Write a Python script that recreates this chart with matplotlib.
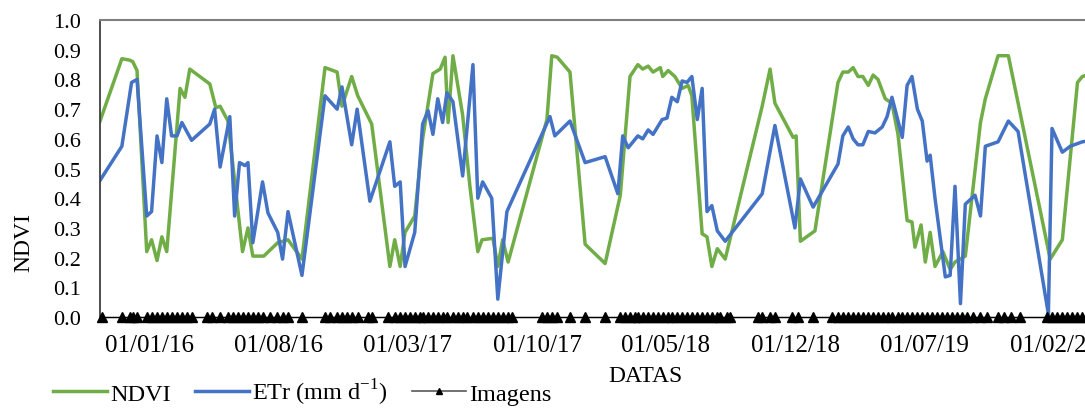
import matplotlib
matplotlib.use('Agg')
import matplotlib.pyplot as plt
import matplotlib.dates as mdates
import numpy as np
import pandas as pd

plt.rcParams['font.family'] = ['Liberation Serif', 'DejaVu Serif']
plt.rcParams['mathtext.fontset'] = 'custom'
plt.rcParams['mathtext.rm'] = 'Liberation Serif'

# dias contados a partir de 01/01/2016
ndvi_dias = [-82, -46, -33, -28, -21, -5, 3, 12, 20, 28, 50, 58, 66, 99, 109, 116, 129,
             153, 162, 170, 188, 211, 228, 251, 289, 309, 317, 333, 343, 366, 396, 404,
             413, 421, 437, 450, 467, 479, 487, 492, 500, 516, 528, 541, 548, 566, 574,
             582, 591, 655, 663, 672, 693, 718, 751, 776, 792, 805, 813, 822, 830, 842,
             846, 855, 866, 878, 888, 894, 911, 919, 927, 936, 949, 1010, 1023, 1031,
             1061, 1066, 1073, 1097, 1135, 1143, 1152, 1160, 1168, 1176, 1185, 1193,
             1201, 1213, 1224, 1234, 1249, 1257, 1262, 1272, 1279, 1287, 1295, 1308,
             1320, 1328, 1345, 1370, 1378, 1399, 1416, 1485, 1505, 1530, 1538, 1570]
ndvi = [0.66, 0.87, 0.865, 0.86, 0.83, 0.22, 0.26, 0.19, 0.27, 0.22, 0.77, 0.74, 0.835,
        0.785, 0.705, 0.71, 0.66, 0.22, 0.30, 0.205, 0.205, 0.25, 0.26, 0.195, 0.84,
        0.825, 0.71, 0.81, 0.745, 0.65, 0.17, 0.26, 0.17, 0.285, 0.34, 0.60, 0.82,
        0.835, 0.875, 0.655, 0.88, 0.68, 0.44, 0.22, 0.26, 0.265, 0.17, 0.26, 0.185,
        0.665, 0.88, 0.875, 0.825, 0.245, 0.18, 0.41, 0.81, 0.85, 0.835, 0.845, 0.825,
        0.84, 0.81, 0.83, 0.81, 0.77, 0.78, 0.745, 0.28, 0.27, 0.17, 0.23, 0.195, 0.71,
        0.835, 0.72, 0.605, 0.61, 0.255, 0.29, 0.79, 0.825, 0.825, 0.84, 0.81, 0.81,
        0.78, 0.815, 0.80, 0.735, 0.72, 0.615, 0.325, 0.32, 0.235, 0.31, 0.185, 0.285,
        0.17, 0.22, 0.16, 0.185, 0.205, 0.655, 0.735, 0.88, 0.88, 0.195, 0.26, 0.79,
        0.81, 0.83]

etr_dias = [-82, -46, -30, -21, -5, 3, 12, 20, 28, 36, 45, 53, 69, 99, 107, 116, 132,
            140, 148, 157, 162, 170, 186, 195, 211, 219, 228, 251, 289, 309, 317, 333,
            342, 363, 396, 404, 413, 421, 437, 450, 459, 467, 475, 483, 490, 500, 516,
            533, 541, 549, 564, 574, 589, 660, 668, 693, 718, 751, 772, 780, 789, 805,
            813, 822, 830, 845, 853, 861, 870, 878, 886, 894, 903, 911, 919, 927, 936,
            949, 1010, 1031, 1064, 1073, 1094, 1135, 1143, 1152, 1160, 1168, 1176, 1185,
            1196, 1208, 1216, 1224, 1241, 1249, 1257, 1266, 1274, 1282, 1287, 1295,
            1312, 1320, 1328, 1337, 1345, 1361, 1370, 1378, 1399, 1416, 1432, 1482,
            1488, 1505, 1518, 1538, 1570]
etr = [0.46, 0.575, 0.79, 0.80, 0.34, 0.355, 0.61, 0.52, 0.735, 0.61, 0.61, 0.655,
       0.595, 0.65, 0.70, 0.505, 0.675, 0.34, 0.52, 0.51, 0.52, 0.25, 0.455, 0.35,
       0.285, 0.195, 0.355, 0.14, 0.745, 0.70, 0.775, 0.58, 0.70, 0.39, 0.59, 0.44,
       0.455, 0.17, 0.285, 0.65, 0.695, 0.615, 0.735, 0.655, 0.755, 0.725, 0.475, 0.85,
       0.40, 0.455, 0.40, 0.06, 0.355, 0.675, 0.61, 0.66, 0.52, 0.54, 0.415, 0.61, 0.57,
       0.61, 0.60, 0.63, 0.615, 0.665, 0.67, 0.74, 0.725, 0.795, 0.79, 0.81, 0.665,
       0.77, 0.355, 0.375, 0.29, 0.255, 0.415, 0.645, 0.30, 0.465, 0.37, 0.515, 0.61,
       0.64, 0.60, 0.58, 0.58, 0.625, 0.62, 0.64, 0.675, 0.74, 0.605, 0.78, 0.81, 0.70,
       0.66, 0.525, 0.545, 0.40, 0.135, 0.14, 0.44, 0.045, 0.38, 0.41, 0.34, 0.575,
       0.59, 0.66, 0.625, 0.01, 0.635, 0.555, 0.575, 0.59, 0.60]

imagens_dias = [-79, -46, -33, -28, -21, -5, 3, 12, 20, 28, 36, 45, 53, 61, 69, 94, 102,
                116, 129, 137, 145, 153, 162, 170, 178, 186, 198, 210, 219, 228, 251, 289,
                297, 309, 317, 325, 333, 343, 360, 366, 393, 404, 413, 421, 429, 437, 445,
                450, 459, 467, 475, 483, 490, 500, 508, 516, 524, 533, 541, 549, 557, 566,
                574, 582, 591, 597, 647, 655, 663, 672, 693, 718, 751, 776, 784, 792, 800,
                805, 813, 822, 830, 838, 846, 855, 862, 870, 878, 886, 894, 903, 911, 919,
                927, 936, 940, 952, 957, 1003, 1010, 1023, 1031, 1059, 1069, 1094, 1125,
                1135, 1143, 1152, 1160, 1168, 1176, 1185, 1193, 1201, 1209, 1217, 1224,
                1234, 1241, 1249, 1257, 1266, 1274, 1282, 1290, 1298, 1307, 1315, 1323,
                1331, 1339, 1348, 1358, 1370, 1381, 1399, 1408, 1420, 1435, 1480, 1488,
                1496, 1505, 1513, 1521, 1530, 1538, 1546, 1554]

rotulos_x = ['2016-01-01', '2016-08-01', '2017-03-01', '2017-10-01',
             '2018-05-01', '2018-12-01', '2019-07-01', '2020-02-01']

base = pd.Timestamp('2016-01-01')
def to_dates(d):
    return base + pd.to_timedelta(np.array(d), unit='D')

fig = plt.figure(figsize=(10.85, 4.14), dpi=100)
ax = fig.add_axes([0.0922, 0.232, 0.94, 0.717])

ax.plot(to_dates(ndvi_dias), ndvi, color='#70AD47', lw=2.5, label='NDVI')
ax.plot(to_dates(etr_dias), etr, color='#4472C4', lw=2.5,
        label=r'ETr (mm d$^{\mathrm{-1}}$)')
ax.plot(to_dates(imagens_dias), np.zeros(len(imagens_dias)), color='black', lw=1.0,
        marker='^', ms=6.5, markerfacecolor='black', markeredgecolor='black',
        clip_on=False, zorder=5)

ax.set_xlim(base + pd.Timedelta(days=-82), base + pd.Timedelta(days=1600))
ax.set_ylim(0, 1.0)
ax.set_yticks(np.arange(0, 1.01, 0.1))
ax.yaxis.set_major_formatter(plt.FormatStrFormatter('%.1f'))
ax.set_xticks(pd.to_datetime(rotulos_x))
ax.xaxis.set_major_formatter(mdates.DateFormatter('%d/%m/%y'))
ax.tick_params(axis='y', length=0, pad=14, labelsize=16)
ax.tick_params(axis='x', length=0, pad=12, labelsize=18)

ax.spines['right'].set_visible(False)
ax.spines['top'].set_color('#7f7f7f')
ax.spines['top'].set_linewidth(1.5)
ax.spines['left'].set_color('#404040')
ax.spines['left'].set_linewidth(1.3)
ax.spines['bottom'].set_color('black')

fig.text(0.022, 0.415, 'NDVI', rotation=90, ha='center', va='center', fontsize=17)
fig.text(0.595, 0.091, 'DATAS', ha='center', va='center', fontsize=17)

# legenda: a entrada "Imagens" usa linha cinza com triângulo pequeno
h1, l1 = ax.get_legend_handles_labels()
img_handle = plt.Line2D([], [], color='#595959', lw=1.2, marker='^', ms=5,
                        markerfacecolor='black', markeredgecolor='black')
fig.legend(h1 + [img_handle], l1 + ['Imagens'], loc='center left',
           bbox_to_anchor=(0.04, 0.05), ncol=3, frameon=False,
           fontsize=17.5, handlelength=2.2, handletextpad=0.15, columnspacing=1.0,
           borderaxespad=0)

fig.savefig('out.png', dpi=100)
